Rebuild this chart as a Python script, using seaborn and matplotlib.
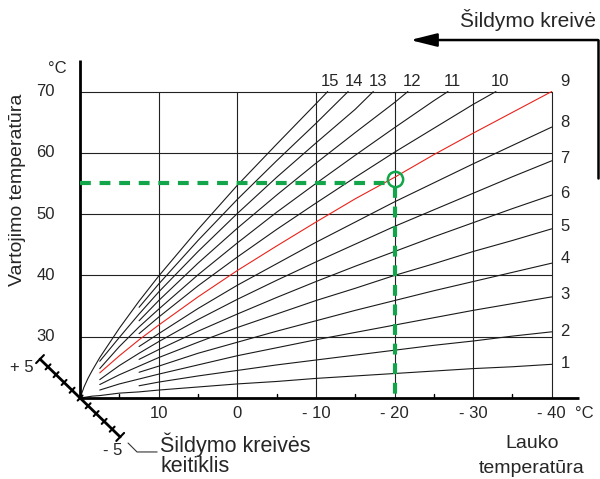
import numpy as np
import pandas as pd
import matplotlib
matplotlib.use("Agg")
import matplotlib.pyplot as plt
import seaborn as sns

# outdoor temperature grid (deg C), shared by the heating curves
outdoor = [20, 19.5, 19, 18.5, 17.5, 15, 12.5, 10, 5, 0, -5, -10, -15, -20, -25, -30, -35, -40]
N = None
# flow temperature (1..15)
k1 = [20.0, 20.1, 20.2, 20.3, 20.4, 20.8, 21.0, 21.3, 21.8, 22.3, 22.7, 23.2, 23.6, 24.0, 24.4, 24.8, 25.1, 25.5]
k2 = [N] * 6 + [22.0, 22.6, 23.6, 24.5, 25.4, 26.2, 27.0, 27.8, 28.6, 29.3, 30.1, 30.8]
k3 = [N] * 4 + [21.3, 22.3, 23.1, 23.9, 25.4, 26.9, 28.2, 29.5, 30.7, 31.9, 33.1, 34.3, 35.4, 36.5]
k4 = [N] * 6 + [24.2, 25.2, 27.3, 29.1, 30.9, 32.6, 34.3, 35.9, 37.5, 39.0, 40.5, 42.0]
k5 = [N] * 4 + [22.2, 23.8, 25.2, 26.6, 29.1, 31.5, 33.7, 35.9, 37.9, 40.0, 41.9, 43.9, 45.7, 47.6]
k6 = [N] * 6 + [26.3, 27.9, 30.9, 33.7, 36.4, 39.0, 41.5, 43.9, 46.3, 48.6, 50.9, 53.1]
k7 = [N] * 4 + [23.0, 25.3, 27.3, 29.2, 32.8, 36.1, 39.2, 42.2, 45.1, 48.0, 50.7, 53.4, 56.1, 58.7]
k8 = [N] * 6 + [28.4, 30.5, 34.6, 38.4, 41.9, 45.4, 48.7, 52.0, 55.1, 58.2, 61.2, 64.2]
k9 = [N] * 4 + [24.1, 26.9, 29.5, 31.9, 36.5, 40.8, 44.8, 48.7, 52.5, 56.0, 59.7, 63.2, 66.6, 70.0]
k10 = [N] * 6 + [30.5, 33.2, 38.3, 43.0, 47.5, 51.8, 56.0, 60.1, 64.0, 67.9, N, N]
k11 = [N] * 4 + [24.8, 28.4, 31.6, 34.5, 40.1, 45.3, 50.3, 55.0, 59.6, 64.1, 68.5, N, N, N]
k12 = [N] * 6 + [32.6, 35.9, 42.0, 47.7, 53.1, 58.3, 63.3, 68.2, N, N, N, N]
k13 = [N] * 4 + [26.0, 29.9, 33.7, 37.3, 43.9, 50.1, 56.0, 61.6, 67.1, N, N, N, N, N]
k14 = [N] * 6 + [34.8, 38.6, 45.7, 52.4, 58.7, 64.8, N, N, N, N, N, N]
k15 = [20.0, 21.8, 23.2, 24.4, 26.6, 31.4, 35.8, 39.9, 47.5, 54.7, 61.4, 68.0, N, N, N, N, N, N]
curves = [k1, k2, k3, k4, k5, k6, k7, k8, k9, k10, k11, k12, k13, k14, k15]

# where curves 10..15 hit the 70 deg line
top_x = [-32.9, -26.8, -21.7, -17.3, -14.1, -11.5]
top_y = 70.0

# curve number labels
right_label_y = [25.7, 30.8, 36.9, 42.8, 47.9, 53.4, 59.0, 64.9]   # curves 1..8
top_label_x = [-41.7, -33.4, -27.3, -22.2, -17.9, -14.85, -11.77]  # curves 9..15

x_grid = [10, 0, -10, -20, -30, -40]
x_ticklabels = ["10", "0", "- 10", "- 20", "- 30", "- 40"]
x_minor = [15, 5, -5, -15, -25, -35]
y_grid = [30, 40, 50, 60, 70]

set_point = (-20, 55.0)  # example: -20 outside -> 55 flow
shift = np.arange(-5, 6)  # heating curve offset scale

sns.set_theme(style="white")
plt.rcParams['font.family'] = ['Liberation Sans', 'DejaVu Sans']

fig = plt.figure(figsize=(6, 4.79), dpi=100)
ax = fig.add_axes([0, 0, 1, 1])

rows = []
for i, ys in enumerate(curves, start=1):
    for x, y in zip(outdoor, ys):
        if y is not None:
            rows.append((str(i), x, y))
for i, tx in zip(range(10, 16), top_x):
    rows.append((str(i), tx, top_y))
df = pd.DataFrame(rows, columns=["curve", "outdoor", "flow"])
palette = {str(i): ("#e8231b" if i == 9 else "#1a1a1a") for i in range(1, 16)}

# grid
for gx in x_grid:
    ax.plot([gx, gx], [20, 70], color="#222222", lw=0.8, zorder=1)
for gy in y_grid:
    ax.plot([20, -40], [gy, gy], color="#222222", lw=0.8, zorder=1)

sns.lineplot(data=df, x="outdoor", y="flow", hue="curve", palette=palette,
             estimator=None, legend=False, lw=0.8, ax=ax, zorder=2)

# axes lines
ax.plot([20, 20], [20, 75.2], color="black", lw=2, solid_capstyle="butt", zorder=3)
ax.plot([20, -43.5], [20, 20], color="black", lw=2, solid_capstyle="butt", zorder=3)
for mx in x_minor:
    ax.plot([mx, mx], [20, 20.7], color="black", lw=1, zorder=3)

# tick labels
for gx, lab in zip(x_grid, x_ticklabels):
    ax.text(gx, 17.5, lab, ha="center", va="center", fontsize=12)
ax.text(-44.2, 17.5, "°C", ha="center", va="center", fontsize=12)
for gy in y_grid:
    ax.text(23.2, gy, str(gy), ha="right", va="center", fontsize=12)
ax.text(22.9, 73.8, "°C", ha="center", va="center", fontsize=12)

# curve numbers
for n, ly in enumerate(right_label_y, start=1):
    ax.text(-41.7, ly, str(n), ha="center", va="center", fontsize=12)
for n, lx in zip(range(9, 16), top_label_x):
    ax.text(lx, 71.7, str(n), ha="center", va="center", fontsize=12)

# example set point (green)
green = "#12a54a"
ax.plot([20, -19.2], [set_point[1], set_point[1]], color=green, lw=3,
        dashes=(2.6, 2.1), zorder=4)
ax.plot([-20, -20], [54.4, 20.2], color=green, lw=3, dashes=(2.6, 2.1), zorder=4)
ax.plot(-20, 55.8, "o", ms=11, mfc="none", mec=green, mew=1.8, zorder=5)

# axis titles
ax.text(28.0, 53.9, "Vartojimo temperatūra", rotation=90, ha="center",
        va="center", fontsize=14)
ax.text(-37.5, 12.66, "Lauko", ha="center", va="center", fontsize=14)
ax.text(-37.5, 8.58, "temperatūra", ha="center", va="center", fontsize=14)

# heating curve title with arrow
ax.text(-37.0, 81.7, "Šildymo kreivė", ha="center", va="center", fontsize=15)
ax.annotate("", xy=(-22.0, 78.4), xytext=(-45.9, 78.4),
            arrowprops=dict(arrowstyle="-|>,head_length=0.8,head_width=0.2",
                            color="black", lw=1.8, mutation_scale=20,
                            shrinkA=0, shrinkB=0))
ax.plot([-45.9, -45.9], [78.4, 55.9], color="black", lw=1.8)

# offset scale (keitiklis) on the diagonal through the origin
sx = 20 + 1.02 * shift
sy = 20 + 1.27 * shift
ax.plot(sx, sy, color="black", lw=2, zorder=3)
for s, px, py in zip(shift, sx, sy):
    k = 1.6 if abs(s) == 5 else 1.0
    ax.plot([px + 0.31 * k, px - 0.31 * k], [py - 0.41 * k, py + 0.41 * k],
            color="black", lw=1.5, zorder=3)
ax.text(27.4, 24.9, "+ 5", ha="center", va="center", fontsize=12)
ax.text(15.9, 11.5, "- 5", ha="center", va="center", fontsize=12)
ax.plot([13.9, 12.76, 10.2], [12.66, 11.2, 11.2], color="#333333", lw=0.8)
ax.text(9.83, 12.33, "Šildymo kreivės", ha="left", va="center", fontsize=15.5)
ax.text(9.83, 8.9, "keitiklis", ha="left", va="center", fontsize=15.5)

ax.set_xlim(30.19, -46.14)
ax.set_ylim(6.79, 84.93)
ax.axis("off")

fig.savefig("out.png", dpi=100)
